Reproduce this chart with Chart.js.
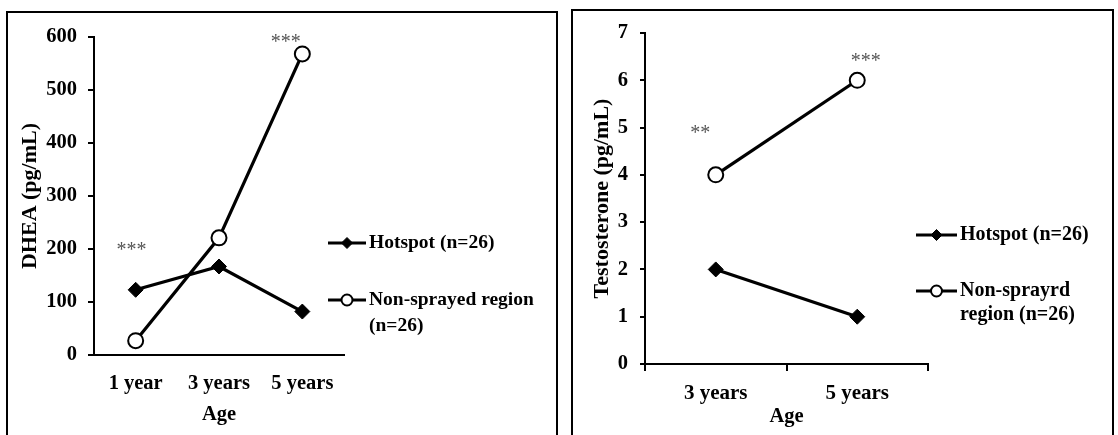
<!DOCTYPE html>
<html>
<head>
<meta charset="utf-8">
<script src="https://cdn.jsdelivr.net/npm/chart.js@4.4.0/dist/chart.umd.min.js"></script>
<style>
    body { margin: 0; background: #fff; width: 1118px; height: 435px; overflow: hidden; position: relative; }
    .frame { position: absolute; border: 2px solid #000; box-sizing: border-box; }
    .holder { position: absolute; top: 0; height: 435px; }
</style>
</head>
<body>
<div class="frame" style="left:6px; top:11px; width:552px; height:440px;"></div>
<div class="frame" style="left:571px; top:9px; width:543px; height:440px;"></div>
<div class="holder" style="left:0; width:560px;"><canvas id="dheaChart"></canvas></div>
<div class="holder" style="left:560px; width:558px;"><canvas id="testoChart"></canvas></div>

<script>
// DHEA panel data
const dheaAges = ['1 year', '3 years', '5 years'];
const dheaHotspot = [123, 167, 82];
const dheaNonSprayed = [27, 221, 568];
const dheaLegend = [['Hotspot (n=26)'], ['Non-sprayed region', '(n=26)']];
// significance marks: category position (fractional index) and value
const dheaStars = [
    { text: '***', at: -0.05, value: 196 },
    { text: '***', at: 1.8, value: 590 }
];

// Testosterone panel data
const testoAges = ['3 years', '5 years'];
const testoHotspot = [2, 1];
const testoNonSprayed = [4, 6];
const testoLegend = [['Hotspot (n=26)'], ['Non-sprayrd', 'region (n=26)']];
const testoStars = [
    { text: '**', at: -0.11, value: 4.86 },
    { text: '***', at: 1.06, value: 6.4 }
];

const FONT = '"Liberation Serif", "Times New Roman", serif';

// draws the asterisks and the line+marker legend on the right
const extras = {
    id: 'extras',
    afterDatasetsDraw(chart, args, opts) {
        const ctx = chart.ctx;
        const xs = chart.scales.x;
        const ys = chart.scales.y;
        ctx.save();

        ctx.fillStyle = '#555';
        ctx.font = '20px ' + FONT;
        ctx.textAlign = 'center';
        ctx.textBaseline = 'middle';
        opts.stars.forEach(s => {
            ctx.fillText(s.text, xs.getPixelForValue(s.at), ys.getPixelForValue(s.value));
        });

        const lg = opts.legend;
        chart.data.datasets.forEach((ds, i) => {
            const ry = lg.rows[i];
            ctx.strokeStyle = '#000';
            ctx.lineWidth = 3;
            ctx.beginPath();
            ctx.moveTo(lg.x0, ry);
            ctx.lineTo(lg.x1, ry);
            ctx.stroke();

            ctx.fillStyle = ds.pointBackgroundColor;
            ctx.lineWidth = ds.pointBorderWidth;
            Chart.helpers.drawPoint(ctx, {
                pointStyle: ds.pointStyle,
                radius: lg.markR,
                borderWidth: ds.pointBorderWidth,
                rotation: 0
            }, (lg.x0 + lg.x1) / 2, ry);

            ctx.fillStyle = '#000';
            ctx.font = 'bold ' + lg.size + 'px ' + FONT;
            ctx.textAlign = 'left';
            ctx.textBaseline = 'middle';
            opts.texts[i].forEach((t, j) => ctx.fillText(t, lg.tx, ry + j * lg.gap));
        });
        ctx.restore();
    }
};

function makeChart(id, ages, hot, non, legendText, stars, cfg) {
    return new Chart(document.getElementById(id), {
        type: 'line',
        data: {
            labels: ages,
            datasets: [
                {
                    label: legendText[0].join(' '),
                    data: hot,
                    borderColor: '#000',
                    borderWidth: 3.2,
                    pointStyle: 'rectRot',
                    pointRadius: 7.5,
                    pointBackgroundColor: '#000',
                    pointBorderColor: '#000',
                    pointBorderWidth: 1,
                    tension: 0,
                    clip: false
                },
                {
                    label: legendText[1].join(' '),
                    data: non,
                    borderColor: '#000',
                    borderWidth: 3.2,
                    pointStyle: 'circle',
                    pointRadius: 7.5,
                    pointBackgroundColor: '#fff',
                    pointBorderColor: '#000',
                    pointBorderWidth: 2,
                    tension: 0,
                    clip: false
                }
            ]
        },
        options: {
            responsive: true,
            maintainAspectRatio: false,
            animation: false,
            layout: { padding: { left: 0, top: cfg.top, right: cfg.right, bottom: 0 } },
            scales: {
                x: {
                    offset: true,
                    afterFit: s => { s.height = cfg.xHeight; },
                    border: { display: true, color: '#000', width: 2 },
                    grid: {
                        display: cfg.xTicks,
                        drawOnChartArea: false,
                        drawTicks: cfg.xTicks,
                        tickLength: 7,
                        offset: true,
                        color: '#000',
                        lineWidth: 2
                    },
                    ticks: {
                        color: '#000',
                        padding: cfg.xPad,
                        font: { family: FONT, size: cfg.xSize, weight: 'bold' }
                    },
                    title: {
                        display: true,
                        text: 'Age',
                        color: '#000',
                        padding: { top: 0, bottom: cfg.ageBottom },
                        font: { family: FONT, size: 20.5, weight: 'bold' }
                    }
                },
                y: {
                    min: 0,
                    max: cfg.yMax,
                    afterFit: s => { s.width = cfg.yWidth; },
                    border: { display: true, color: '#000', width: 2 },
                    grid: {
                        drawOnChartArea: false,
                        drawTicks: true,
                        tickLength: cfg.yTick,
                        color: '#000',
                        lineWidth: 2
                    },
                    ticks: {
                        stepSize: cfg.yStep,
                        color: '#000',
                        padding: cfg.yPad,
                        font: { family: FONT, size: 20.5, weight: 'bold' }
                    },
                    title: {
                        display: true,
                        text: cfg.yTitle,
                        color: '#000',
                        padding: { top: cfg.yTitlePad, bottom: 0 },
                        font: { family: FONT, size: 22, weight: 'bold' }
                    }
                }
            },
            plugins: {
                legend: { display: false },
                tooltip: { enabled: false },
                extras: { stars: stars, texts: legendText, legend: cfg.legend }
            }
        },
        plugins: [extras]
    });
}

makeChart('dheaChart', dheaAges, dheaHotspot, dheaNonSprayed, dheaLegend, dheaStars, {
    top: 37, right: 216, xHeight: 80, yWidth: 94,
    xTicks: false, xPad: 16, xSize: 20.5, ageBottom: 8,
    yMax: 600, yStep: 100, yTick: 6, yPad: 11,
    yTitle: 'DHEA (pg/mL)', yTitlePad: 17,
    legend: { x0: 328, x1: 366, tx: 369, rows: [243, 300], gap: 26, markR: 5.5, size: 19.5 }
});

makeChart('testoChart', testoAges, testoHotspot, testoNonSprayed, testoLegend, testoStars, {
    top: 33, right: 190, xHeight: 71, yWidth: 85,
    xTicks: true, xPad: 10, xSize: 21, ageBottom: 6,
    yMax: 7, yStep: 1, yTick: 5, yPad: 12,
    yTitle: 'Testosterone (pg/mL)', yTitlePad: 29,
    legend: { x0: 356, x1: 397, tx: 400, rows: [235, 291], gap: 24, markR: 5.5, size: 20 }
});
</script>
</body>
</html>
